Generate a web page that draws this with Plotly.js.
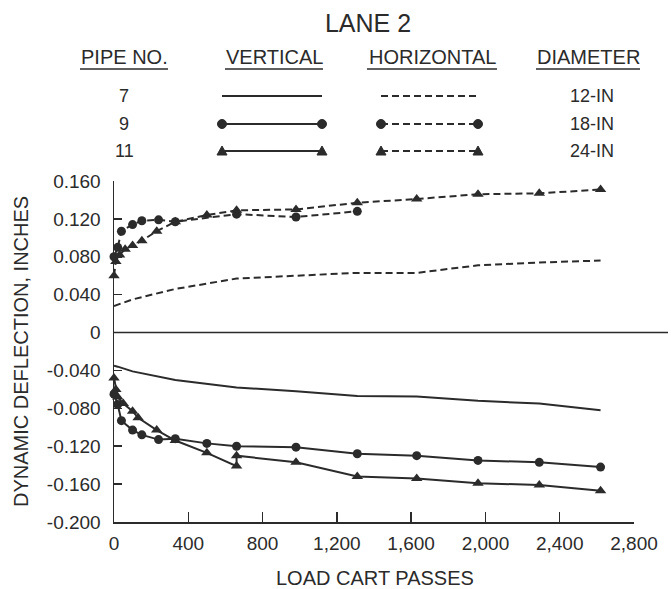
<!DOCTYPE html>
<html>
<head>
<meta charset="utf-8">
<script src="https://cdn.plot.ly/plotly-3.0.1.min.js"></script>
<style>html,body{margin:0;padding:0;background:#fff;}#chart{width:671px;height:589px;}</style>
</head>
<body>
<div id="chart"></div>
<script>
// ---- data (load cart passes vs dynamic deflection, inches) ----
const pipe7HorizX = [0, 100, 330, 660, 980, 1310, 1630, 1960, 2290, 2620];
const pipe7HorizY = [0.028, 0.035, 0.046, 0.057, 0.060, 0.063, 0.063, 0.071, 0.074, 0.076];

const pipe9HorizX = [0, 20, 40, 100, 150, 240, 330, 660, 980, 1310];
const pipe9HorizY = [0.080, 0.090, 0.107, 0.114, 0.118, 0.119, 0.117, 0.125, 0.122, 0.128];

const pipe11HorizX = [0, 10, 30, 60, 100, 150, 230, 330, 500, 660, 980, 1310, 1630, 1960, 2290, 2620];
const pipe11HorizY = [0.060, 0.075, 0.082, 0.088, 0.092, 0.097, 0.107, 0.117, 0.124, 0.129, 0.130, 0.137, 0.141, 0.146, 0.147, 0.151];

const pipe7VertX = [0, 20, 100, 330, 660, 980, 1310, 1630, 1960, 2290, 2620];
const pipe7VertY = [-0.035, -0.036, -0.041, -0.050, -0.058, -0.062, -0.067, -0.0675, -0.072, -0.075, -0.082];

const pipe9VertX = [0, 20, 40, 100, 150, 240, 330, 500, 660, 980, 1310, 1630, 1960, 2290, 2620];
const pipe9VertY = [-0.065, -0.076, -0.093, -0.103, -0.108, -0.113, -0.112, -0.117, -0.120, -0.121, -0.128, -0.130, -0.135, -0.137, -0.142];

const pipe11VertX = [0, 10, 20, 50, 100, 130, 230, 330, 500, 660, 660, 980, 1310, 1630, 1960, 2290, 2620];
const pipe11VertY = [-0.048, -0.060, -0.068, -0.075, -0.083, -0.090, -0.103, -0.114, -0.127, -0.141, -0.130, -0.137, -0.152, -0.154, -0.159, -0.161, -0.167];

const xTickVals = [0, 400, 800, 1200, 1600, 2000, 2400, 2800];
const yTickVals = [0.16, 0.12, 0.08, 0.04, 0, -0.04, -0.08, -0.12, -0.16, -0.2];
const yTickText = ["0.160", "0.120", "0.080", "0.040", "0", "-0.040", "-0.080", "-0.120", "-0.160", "-0.200"];

const pipeNumbers = ["7", "9", "11"];
const diameters = ["12-IN", "18-IN", "24-IN"];
const headers = ["PIPE NO.", "VERTICAL", "HORIZONTAL", "DIAMETER"];

// ---- styling / layout helpers ----
const INK = "#2b2b2b";
const FONT = "Liberation Sans, Arial, sans-serif";
const L = 114, R = 634, T = 181, B = 522;
const W = R - L, H = B - T;
const px = v => (v - L) / W;
const py = v => (B - v) / H;

function series(x, y, dash, symbol) {
  const t = {
    x: x, y: y, type: "scatter", cliponaxis: false,
    mode: symbol ? "lines+markers" : "lines",
    line: {color: INK, width: 2, dash: dash ? "7px,4px" : "solid"},
    hoverinfo: "skip", showlegend: false
  };
  if (symbol) t.marker = {symbol: symbol, size: symbol === "circle" ? 9 : 10, color: INK};
  return t;
}

const traces = [
  series(pipe7HorizX, pipe7HorizY, true, null),
  series(pipe9HorizX, pipe9HorizY, true, "circle"),
  series(pipe11HorizX, pipe11HorizY, true, "triangle-up"),
  series(pipe7VertX, pipe7VertY, false, null),
  series(pipe9VertX, pipe9VertY, false, "circle"),
  series(pipe11VertX, pipe11VertY, false, "triangle-up")
];

// key table (drawn in paper coordinates)
const shapes = [];
const annotations = [];
const headerCenters = [124, 274, 432, 588];
const headerHalf = [44, 49, 65, 52];
const headerY = 57, underlineY = 69;
headers.forEach((h, i) => {
  annotations.push({text: h, xref: "paper", yref: "paper", x: px(headerCenters[i]), y: py(headerY),
    xanchor: "center", yanchor: "middle", showarrow: false, font: {family: FONT, size: 20, color: INK}});
  shapes.push({type: "line", xref: "paper", yref: "paper",
    x0: px(headerCenters[i] - headerHalf[i]), x1: px(headerCenters[i] + headerHalf[i]),
    y0: py(underlineY), y1: py(underlineY), line: {color: INK, width: 1.5}});
});
const rowY = [96, 124, 151];
const markerKinds = [null, "circle", "triangle"];
function keyMarker(kind, cx, cy) {
  if (kind === "circle") {
    const r = 4.5;
    shapes.push({type: "circle", xref: "paper", yref: "paper", x0: px(cx - r), x1: px(cx + r), y0: py(cy + r), y1: py(cy - r),
      fillcolor: INK, line: {color: INK, width: 1}});
  } else if (kind === "triangle") {
    const s = 5;
    const path = "M " + px(cx - s) + " " + py(cy + 4) + " L " + px(cx + s) + " " + py(cy + 4) + " L " + px(cx) + " " + py(cy - 5) + " Z";
    shapes.push({type: "path", xref: "paper", yref: "paper", path: path, fillcolor: INK, line: {color: INK, width: 1}});
  }
}
rowY.forEach((y, i) => {
  annotations.push({text: pipeNumbers[i], xref: "paper", yref: "paper", x: px(124), y: py(y), xanchor: "center", yanchor: "middle",
    showarrow: false, font: {family: FONT, size: 18, color: INK}});
  annotations.push({text: diameters[i], xref: "paper", yref: "paper", x: px(592), y: py(y), xanchor: "center", yanchor: "middle",
    showarrow: false, font: {family: FONT, size: 18, color: INK}});
  shapes.push({type: "line", xref: "paper", yref: "paper", x0: px(222), x1: px(322), y0: py(y), y1: py(y), line: {color: INK, width: 2}});
  shapes.push({type: "line", xref: "paper", yref: "paper", x0: px(381), x1: px(478), y0: py(y), y1: py(y), line: {color: INK, width: 2, dash: "7px,4px"}});
  keyMarker(markerKinds[i], 222, y); keyMarker(markerKinds[i], 322, y);
  keyMarker(markerKinds[i], 381, y); keyMarker(markerKinds[i], 478, y);
});

// zero line extending past the axis end
shapes.push({type: "line", xref: "paper", yref: "y", x0: 0, x1: px(668), y0: 0, y1: 0, line: {color: INK, width: 1.5}});

annotations.push({text: "DYNAMIC DEFLECTION, INCHES", xref: "paper", yref: "paper", x: px(21), y: py(352),
  xanchor: "center", yanchor: "middle", textangle: -90, showarrow: false, font: {family: FONT, size: 20, color: INK}});
annotations.push({text: "LOAD CART PASSES", xref: "paper", yref: "paper", x: px(375), y: py(578),
  xanchor: "center", yanchor: "middle", showarrow: false, font: {family: FONT, size: 20, color: INK}});

const layout = {
  width: 671, height: 589,
  margin: {l: L, r: 671 - R, t: T, b: 589 - B, pad: 0},
  paper_bgcolor: "#ffffff", plot_bgcolor: "#ffffff",
  showlegend: false,
  title: {text: "LANE 2", x: px(368), xref: "paper", xanchor: "center", y: 1 - 23 / 589, yref: "container", yanchor: "middle",
    font: {family: FONT, size: 25, color: INK}},
  xaxis: {range: [0, 2800], tickvals: xTickVals, tickformat: ",d", ticks: "inside", ticklen: 10, tickwidth: 1.5, tickcolor: INK,
    showline: true, linecolor: INK, linewidth: 1.5, showgrid: false, zeroline: false, mirror: false,
    tickfont: {family: FONT, size: 19, color: INK}, ticklabelstandoff: 4, fixedrange: true},
  yaxis: {range: [-0.2, 0.16], tickvals: yTickVals, ticktext: yTickText, ticks: "inside", ticklen: 8, tickwidth: 1.5, tickcolor: INK,
    showline: true, linecolor: INK, linewidth: 1.5, showgrid: false, zeroline: false, mirror: false,
    tickfont: {family: FONT, size: 19, color: INK}, ticklabelstandoff: 8, fixedrange: true},
  shapes: shapes,
  annotations: annotations
};

Plotly.newPlot("chart", traces, layout, {displayModeBar: false, staticPlot: true});
</script>
</body>
</html>
